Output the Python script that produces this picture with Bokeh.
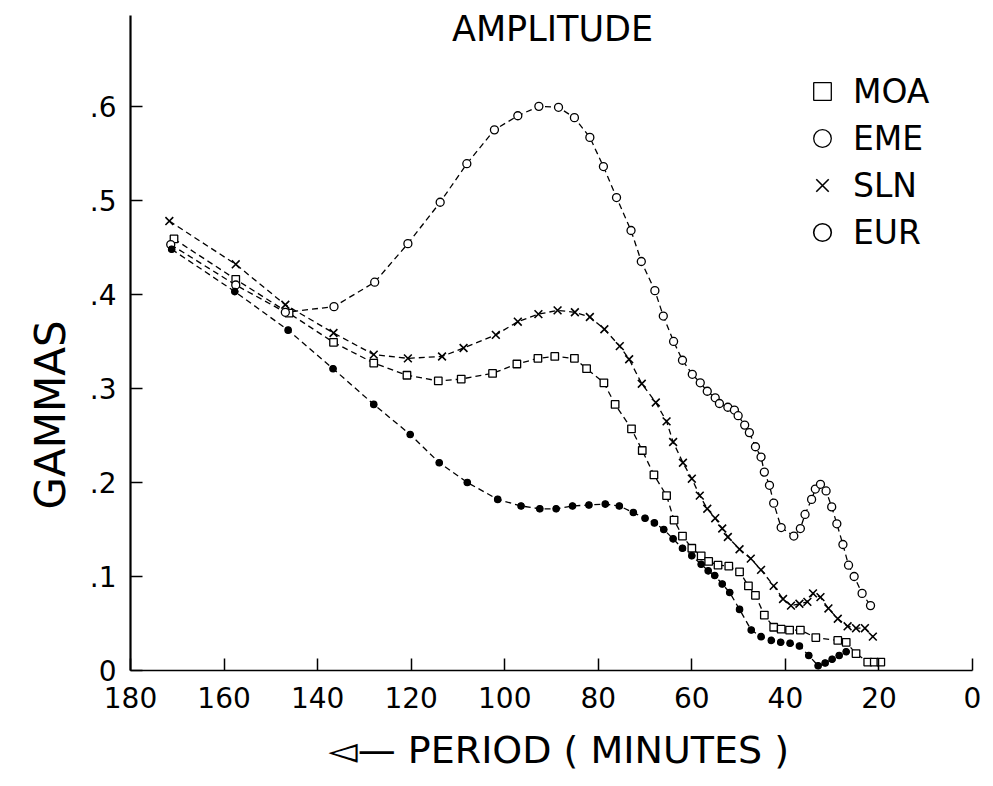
from bokeh.plotting import figure
from bokeh.models import Range1d, FixedTicker, Label, Legend, LegendItem, Title
from bokeh.embed import file_html
from bokeh.resources import INLINE

# ---------------- data ----------------
moa_period = [170.7, 157.5, 146.1, 136.6, 128.0, 120.9, 114.2, 109.3, 102.6, 97.4,
              92.9, 89.3, 85.1, 82.5, 78.8, 76.4, 72.9, 70.6, 68.1, 65.4,
              63.8, 62.0, 60.0, 58.0, 56.4, 54.4, 52.1, 49.8, 47.9, 46.4,
              44.5, 42.5, 40.9, 39.1, 36.8, 33.5, 28.8, 27.0, 24.9, 22.4, 21.0, 19.6]
moa_gamma = [0.459, 0.416, 0.380, 0.349, 0.327, 0.314, 0.308, 0.310, 0.316, 0.326,
             0.332, 0.334, 0.332, 0.321, 0.306, 0.283, 0.257, 0.234, 0.208, 0.186,
             0.160, 0.143, 0.130, 0.122, 0.116, 0.112, 0.111, 0.105, 0.090, 0.080,
             0.059, 0.046, 0.044, 0.043, 0.043, 0.035, 0.032, 0.030, 0.018, 0.009, 0.009, 0.009]

eme_period = [171.4, 157.5, 146.9, 136.5, 127.8, 120.7, 113.8, 108.1, 102.2, 97.2,
              92.7, 88.5, 85.1, 81.8, 78.9, 76.1, 73.0, 70.8, 67.9, 66.1,
              63.9, 62.0, 59.9, 58.2, 56.7, 55.0, 54.1, 52.3, 50.9, 50.1,
              48.7, 47.7, 46.4, 45.2, 44.5, 43.4, 42.5, 40.9, 38.2, 36.8,
              35.8, 34.4, 33.6, 32.5, 31.3, 30.1, 29.0, 27.7, 26.5, 25.3, 23.6, 21.8]
eme_gamma = [0.453, 0.410, 0.381, 0.387, 0.413, 0.454, 0.498, 0.539, 0.575, 0.590,
             0.600, 0.599, 0.588, 0.567, 0.536, 0.503, 0.468, 0.435, 0.404, 0.377,
             0.350, 0.330, 0.315, 0.306, 0.297, 0.290, 0.284, 0.280, 0.277, 0.271,
             0.261, 0.253, 0.238, 0.227, 0.211, 0.197, 0.178, 0.152, 0.143, 0.151,
             0.166, 0.182, 0.193, 0.198, 0.191, 0.174, 0.156, 0.134, 0.112, 0.100, 0.082, 0.069]

sln_period = [171.7, 157.5, 146.9, 136.6, 128.0, 120.7, 113.4, 108.8, 101.9, 97.2,
              92.8, 88.7, 85.0, 81.8, 78.7, 75.4, 73.4, 70.7, 67.7, 65.4,
              64.0, 61.9, 60.0, 58.3, 56.7, 55.0, 53.5, 52.3, 49.8, 47.4,
              45.2, 42.5, 40.5, 38.8, 37.0, 35.3, 34.1, 32.5, 30.8, 28.8,
              26.7, 24.9, 23.0, 21.3]
sln_gamma = [0.478, 0.432, 0.389, 0.359, 0.336, 0.332, 0.334, 0.343, 0.357, 0.371,
             0.379, 0.383, 0.381, 0.376, 0.363, 0.345, 0.331, 0.305, 0.285, 0.265,
             0.243, 0.221, 0.204, 0.186, 0.172, 0.162, 0.151, 0.142, 0.129, 0.119,
             0.107, 0.090, 0.076, 0.069, 0.071, 0.073, 0.082, 0.078, 0.066, 0.055,
             0.047, 0.045, 0.045, 0.036]

eur_period = [171.2, 157.7, 146.3, 136.7, 128.0, 120.2, 114.0, 108.0, 101.5, 96.5,
              92.5, 89.0, 85.5, 82.0, 78.5, 75.5, 72.5, 70.0, 68.0, 66.0,
              64.0, 62.0, 60.0, 58.0, 56.5, 55.1, 53.5, 51.9, 49.8, 47.3,
              45.2, 43.0, 41.0, 39.0, 37.0, 35.0, 33.0, 31.5, 30.0, 28.5, 27.0]
eur_gamma = [0.448, 0.403, 0.362, 0.321, 0.283, 0.251, 0.221, 0.200, 0.182, 0.175,
             0.172, 0.172, 0.175, 0.176, 0.177, 0.175, 0.168, 0.162, 0.157, 0.150,
             0.140, 0.130, 0.122, 0.113, 0.106, 0.101, 0.092, 0.083, 0.065, 0.043,
             0.036, 0.032, 0.030, 0.029, 0.026, 0.016, 0.005, 0.008, 0.012, 0.016, 0.020]

x_ticks = [180, 160, 140, 120, 100, 80, 60, 40, 20, 0]
x_tick_labels = ["180", "160", "140", "120", "100", "80", "60", "40", "20", "0"]
y_ticks = [0, 0.1, 0.2, 0.3, 0.4, 0.5, 0.6]
y_tick_labels = ["0", ".1", ".2", ".3", ".4", ".5", ".6"]

series_names = ["MOA", "EME", "SLN", "EUR"]

FONT = "DejaVu Sans"

# ---------------- figure ----------------
p = figure(width=985, height=786, x_range=Range1d(180, 0), y_range=Range1d(0, 0.7126),
           output_backend="svg", toolbar_location=None,
           min_border_left=130, min_border_right=13, min_border_top=0, min_border_bottom=114)
p.xgrid.visible = False
p.ygrid.visible = False
p.outline_line_color = None
p.background_fill_color = "white"
p.border_fill_color = "white"

for ax in (p.xaxis[0], p.yaxis[0]):
    ax.major_tick_in = 12
    ax.major_tick_out = 0
    ax.minor_tick_line_color = None
    ax.axis_line_color = "black"
    ax.major_tick_line_color = "black"
    ax.major_tick_line_width = 1.5
    ax.major_label_text_font = FONT
    ax.major_label_text_font_size = "28px"
    ax.major_label_text_color = "black"

p.xaxis.ticker = FixedTicker(ticks=x_ticks)
p.xaxis.major_label_overrides = dict(zip(x_ticks, x_tick_labels))
p.xaxis.axis_line_width = 1.6
p.xaxis.major_label_standoff = 16

p.yaxis.ticker = FixedTicker(ticks=y_ticks)
p.yaxis.major_label_overrides = dict(zip(y_ticks, y_tick_labels))
p.yaxis.axis_line_width = 2.2
p.yaxis.major_label_standoff = 14
p.yaxis.bounds = (0, 0.6967)

dash = "6 4"
lw = 1.3

# lines
for xs, ys in [(moa_period, moa_gamma), (eme_period, eme_gamma),
               (sln_period, sln_gamma), (eur_period, eur_gamma)]:
    p.line(xs, ys, line_color="black", line_width=lw, line_dash=dash)

# markers
r_moa = p.scatter(moa_period, moa_gamma, marker="square", size=7.5, fill_color="white",
                  line_color="black", line_width=1.3)
r_eme = p.scatter(eme_period, eme_gamma, marker="circle", size=8, fill_color="white",
                  line_color="black", line_width=1.3)
r_sln = p.scatter(sln_period, sln_gamma, marker="x", size=11, line_color="black", line_width=1.6)
# open ring under the filled dots: gives the key its open "o" like the original
r_eur_key = p.scatter(eur_period, eur_gamma, marker="circle", size=6, fill_color="white",
                      line_color="black", line_width=1.6)
p.scatter(eur_period, eur_gamma, marker="circle", size=6, fill_color="black",
          line_color="black", line_width=1)

legend = Legend(items=[LegendItem(label=n, renderers=[r]) for n, r in
                       zip(series_names, [r_moa, r_eme, r_sln, r_eur_key])],
                location=(670, 416), padding=0, margin=0, spacing=3,
                glyph_width=44, glyph_height=44, label_height=44, label_standoff=9,
                label_text_font=FONT, label_text_font_size="33px", label_text_color="black",
                border_line_color=None, background_fill_alpha=0)
p.add_layout(legend, "center")

# texts
p.add_layout(Label(x=422, y=642, x_units="screen", y_units="screen", text="AMPLITUDE",
                   text_font=FONT, text_font_size="35px", text_align="center",
                   text_baseline="middle", text_color="black"))

p.add_layout(Title(text="GAMMAS", align="left", offset=161, standoff=24,
                   text_font=FONT, text_font_size="42px", text_font_style="normal",
                   text_color="black"), "left")
p.add_layout(Title(text="\u25c5\u2014 PERIOD ( MINUTES )", align="left", offset=198,
                   standoff=30, text_line_height=0.8, text_font=FONT, text_font_size="38px",
                   text_font_style="normal", text_color="black"), "below")

open("out.html", "w").write(file_html(p, INLINE))
